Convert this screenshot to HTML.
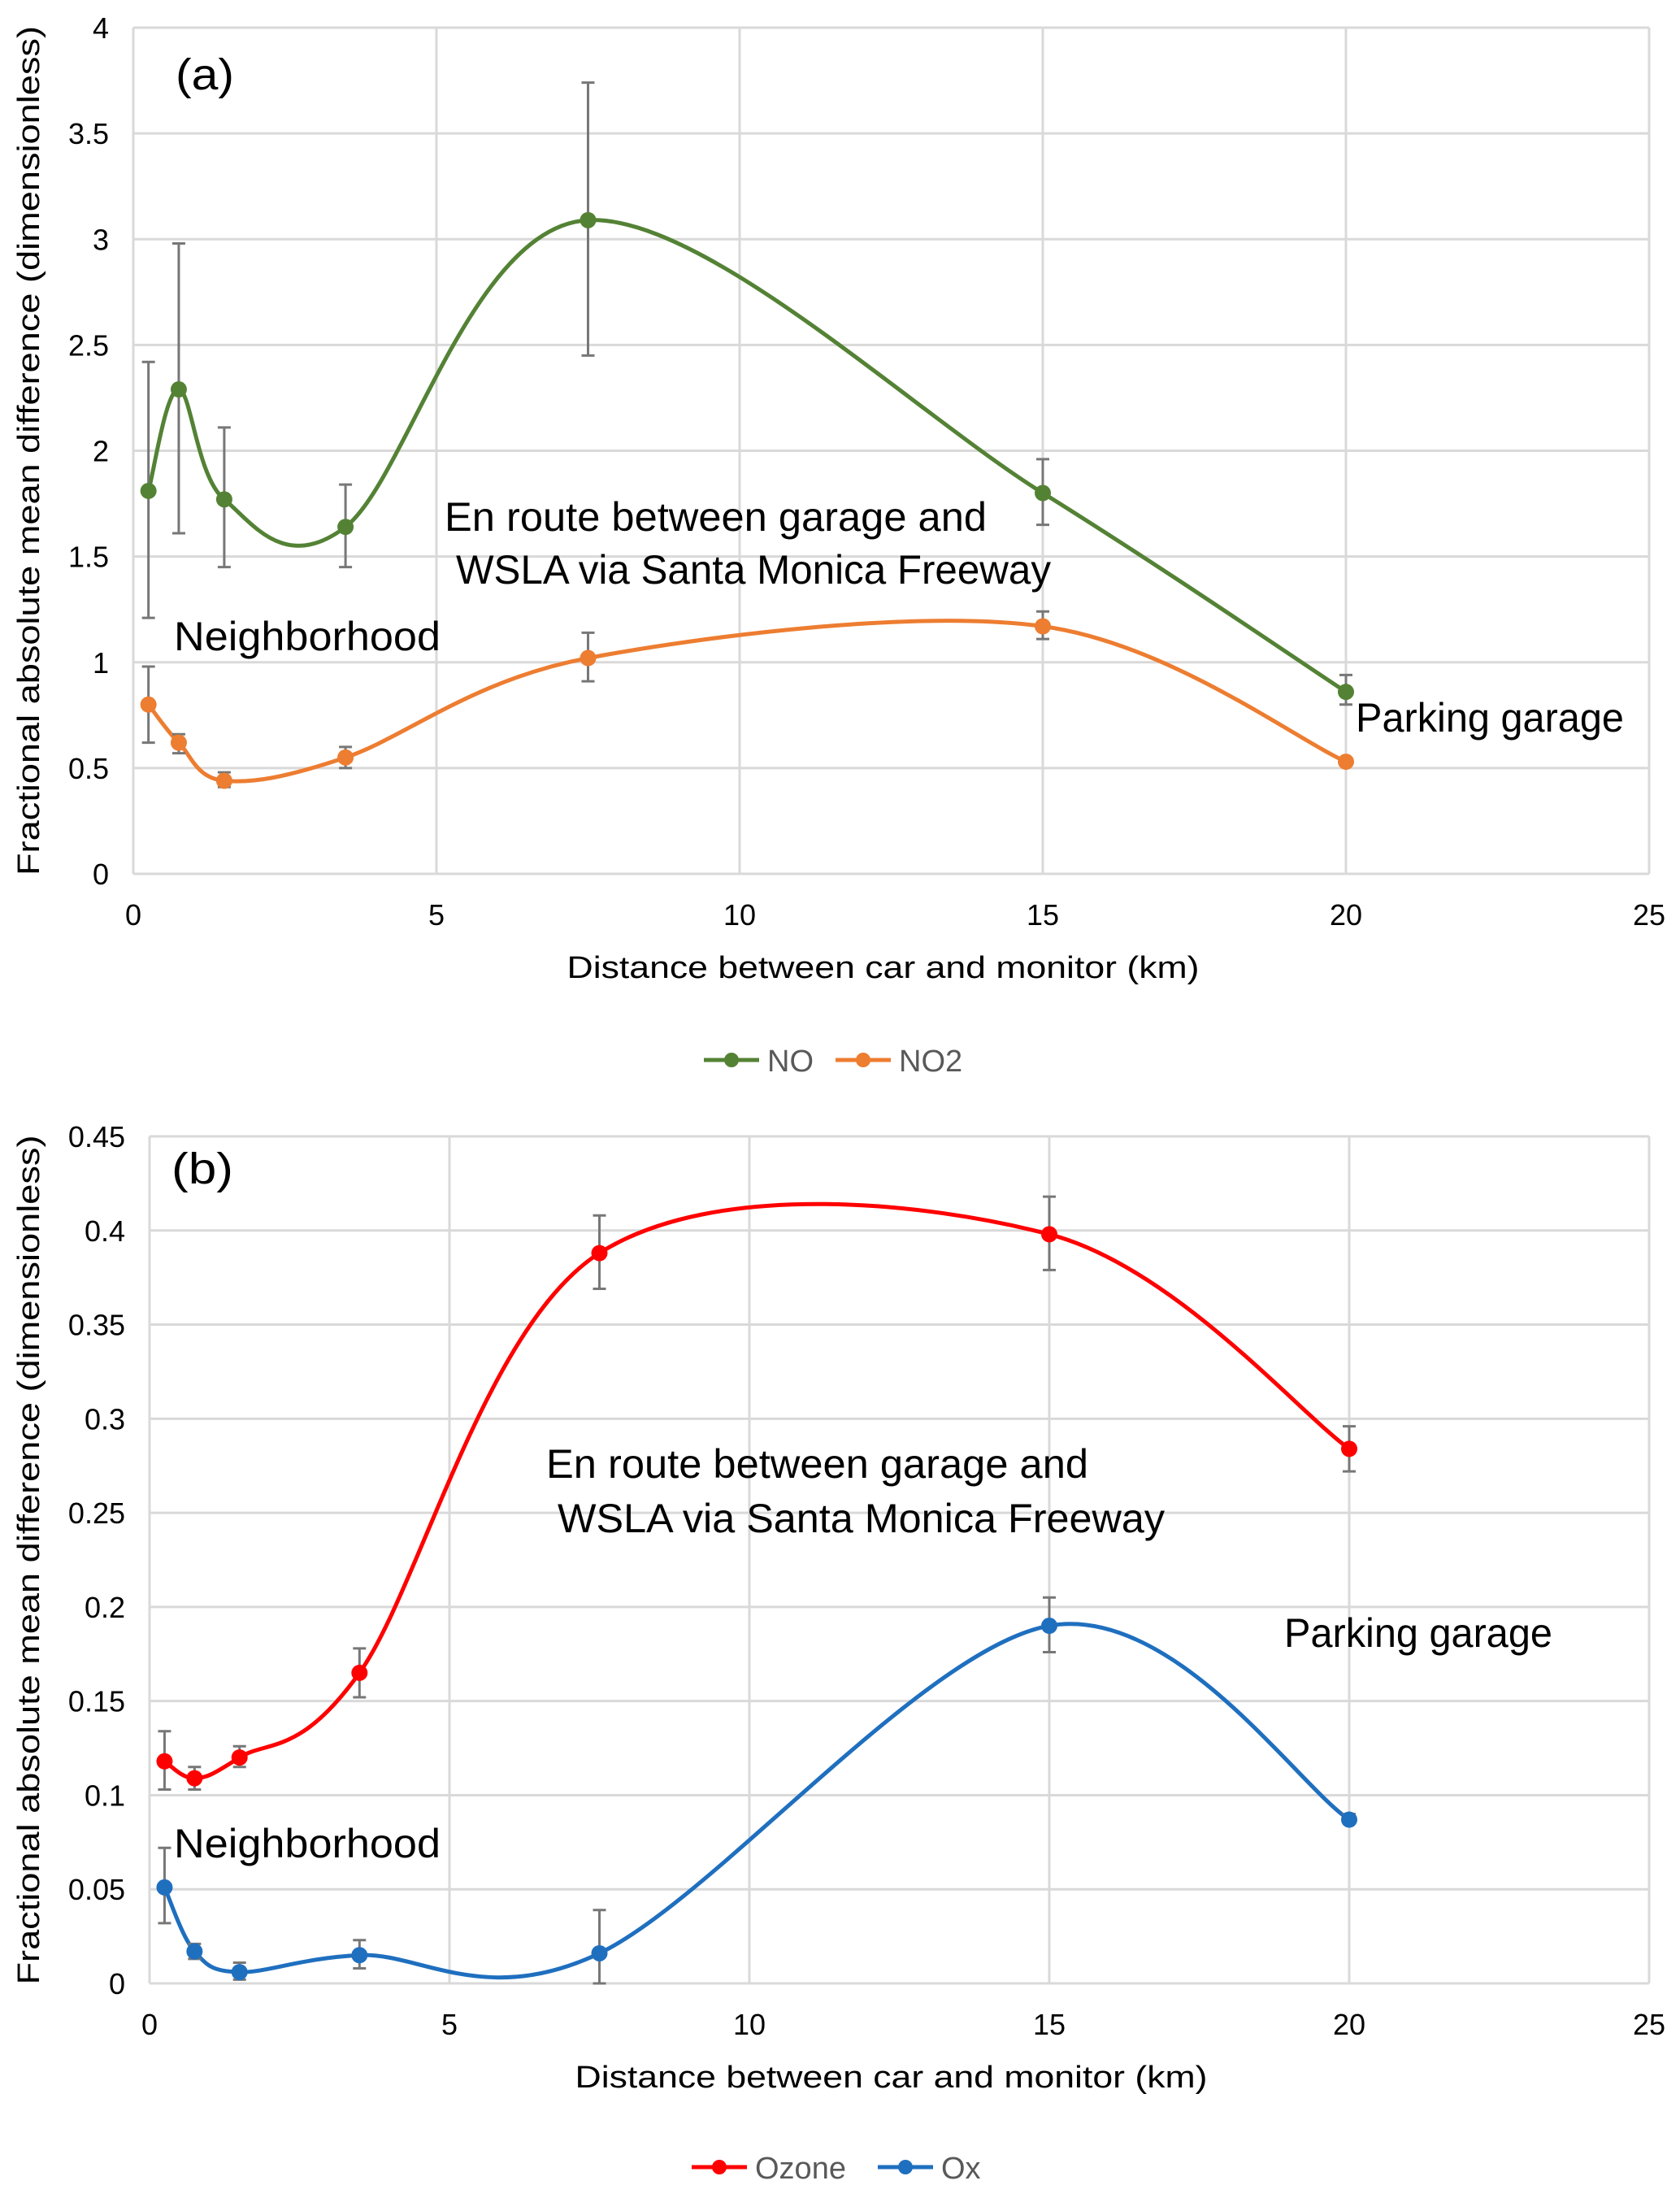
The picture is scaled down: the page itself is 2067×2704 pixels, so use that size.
<!DOCTYPE html>
<html><head><meta charset="utf-8"><style>
html,body{margin:0;padding:0;background:#fff}
svg{display:block}
text{font-family:"Liberation Sans",sans-serif}
</style></head>
<body>
<svg id="fig" xmlns="http://www.w3.org/2000/svg" width="2067" height="2704" viewBox="0 0 2067 2704"></svg>
<script>
const xs = [0.25, 0.75, 1.5, 3.5, 7.5, 15, 20];
const noVals = [1.81, 2.29, 1.77, 1.64, 3.09, 1.80, 0.86];
const noLo = [1.21, 1.61, 1.45, 1.45, 2.45, 1.65, 0.80];
const noHi = [2.42, 2.98, 2.11, 1.84, 3.74, 1.96, 0.94];
const no2Vals = [0.80, 0.62, 0.44, 0.55, 1.02, 1.17, 0.53];
const no2Lo = [0.62, 0.57, 0.41, 0.50, 0.91, 1.11, 0.53];
const no2Hi = [0.98, 0.66, 0.48, 0.60, 1.14, 1.24, 0.53];
const o3Vals = [0.118, 0.109, 0.120, 0.165, 0.388, 0.398, 0.284];
const o3Lo = [0.103, 0.103, 0.115, 0.152, 0.369, 0.379, 0.272];
const o3Hi = [0.134, 0.115, 0.126, 0.178, 0.408, 0.418, 0.296];
const oxVals = [0.051, 0.017, 0.006, 0.015, 0.016, 0.190, 0.087];
const oxLo = [0.032, 0.013, 0.002, 0.008, 0.000, 0.176, 0.085];
const oxHi = [0.072, 0.021, 0.011, 0.023, 0.039, 0.205, 0.090];
const xTicks = [0, 5, 10, 15, 20, 25];
const yTicksA = [0, 0.5, 1, 1.5, 2, 2.5, 3, 3.5, 4];
const yTickLabelsA = ["0","0.5","1","1.5","2","2.5","3","3.5","4"];
const yTicksB = [0, 0.05, 0.1, 0.15, 0.2, 0.25, 0.3, 0.35, 0.4, 0.45];
const yTickLabelsB = ["0","0.05","0.1","0.15","0.2","0.25","0.3","0.35","0.4","0.45"];

const NS = "http://www.w3.org/2000/svg";
const svg = document.getElementById('fig');
function mk(tag, attrs, parent, txt){
  const e = document.createElementNS(NS, tag);
  for (const k in attrs) e.setAttribute(k, attrs[k]);
  if (txt !== undefined) e.textContent = txt;
  (parent || svg).appendChild(e);
  return e;
}
function smoothPath(pts){
  let d = "M" + pts[0][0] + "," + pts[0][1];
  for (let i = 0; i < pts.length - 1; i++){
    const p0 = pts[i-1] || pts[i], p1 = pts[i], p2 = pts[i+1], p3 = pts[i+2] || pts[i+1];
    const c1x = p1[0] + (p2[0]-p0[0])/6, c1y = p1[1] + (p2[1]-p0[1])/6;
    const c2x = p2[0] - (p3[0]-p1[0])/6, c2y = p2[1] - (p3[1]-p1[1])/6;
    d += " C" + c1x + "," + c1y + " " + c2x + "," + c2y + " " + p2[0] + "," + p2[1];
  }
  return d;
}
function chart(cfg){
  const g = mk('g', {});
  
  
  const X = v => cfg.x0 + (v - 0) / 25 * (cfg.x1 - cfg.x0);
  const Y = v => cfg.y0 - v / cfg.ymax * (cfg.y0 - cfg.y1);
  cfg.yTicks.forEach((t, i) => {
    const l = mk('line', {x1: cfg.x0, x2: cfg.x1, y1: Y(t), y2: Y(t), stroke: '#d9d9d9', 'stroke-width': 3}, g);
    
    
    const tx = mk('text', {x: cfg.x0 - 30, y: Y(t) + 13, 'text-anchor': 'end', 'font-size': 36, fill: '#000'}, g, cfg.yLabels[i]);
    
    
  });
  xTicks.forEach(t => {
    const l = mk('line', {x1: X(t), x2: X(t), y1: cfg.y0, y2: cfg.y1, stroke: '#d9d9d9', 'stroke-width': 3}, g);
    
    
    const tx = mk('text', {x: X(t), y: cfg.y0 + 63, 'text-anchor': 'middle', 'font-size': 36, fill: '#000'}, g, String(t));
    
    
  });
  const xt = mk('text', {x: (cfg.x0 + cfg.x1) / 2 - 10, y: cfg.y0 + 128, 'text-anchor': 'middle', 'font-size': 38, fill: '#000', textLength: 778, lengthAdjust: 'spacingAndGlyphs'}, g, 'Distance between car and monitor (km)');
  
  
  const yc = (cfg.y0 + cfg.y1) / 2;
  const yt = mk('text', {x: 0, y: 0, transform: 'translate(48,' + yc + ') rotate(-90)', 'text-anchor': 'middle', 'font-size': 38, fill: '#000', textLength: 1045, lengthAdjust: 'spacingAndGlyphs'}, g, 'Fractional absolute mean difference (dimensionless)');
  
  
  cfg.series.forEach(s => {
    const sg = mk('g', {}, g);
    
    
    const pts = xs.map((x, i) => [X(x), Y(s.vals[i])]);
    const p = mk('path', {d: smoothPath(pts), fill: 'none', stroke: s.color, 'stroke-width': 5}, sg);
    
    
    xs.forEach((x, i) => {
      const e = mk('path', {d: 'M' + (X(x)-8) + ',' + Y(s.hi[i]) + 'h16M' + X(x) + ',' + Y(s.hi[i]) + 'V' + Y(s.lo[i]) + 'M' + (X(x)-8) + ',' + Y(s.lo[i]) + 'h16', stroke: '#777', 'stroke-width': 3, fill: 'none'}, sg);
      
      
    });
    xs.forEach((x, i) => {
      const c = mk('circle', {cx: X(x), cy: Y(s.vals[i]), r: 10, fill: s.color}, sg);
      
      
    });
  });
  let lx = cfg.legendX;
  cfg.series.forEach(s => {
    const lg = mk('g', {}, g);
    
    
    mk('line', {x1: lx, x2: lx + 68, y1: cfg.legendY, y2: cfg.legendY, stroke: s.color, 'stroke-width': 5}, lg);
    mk('circle', {cx: lx + 34, cy: cfg.legendY, r: 9, fill: s.color}, lg);
    mk('text', {x: lx + 78, y: cfg.legendY + 14, 'font-size': 38, fill: '#595959'}, lg, s.label);
    lx += s.legendW;
  });
  cfg.notes.forEach(n => {
    const t = mk('text', {x: n.x, y: n.y, 'font-size': n.fs, fill: '#000', 'text-anchor': n.anchor || 'start', textLength: n.w, lengthAdjust: 'spacingAndGlyphs'}, g, n.t);
    
    
  });
}
chart({name: 'chart-a', x0: 164, x1: 2029, y0: 1075, y1: 34, ymax: 4, yTicks: yTicksA, yLabels: yTickLabelsA,
  legendX: 866, legendY: 1304,
  series: [
    {key: 'no', label: 'NO', color: '#548235', vals: noVals, lo: noLo, hi: noHi, legendW: 162},
    {key: 'no2', label: 'NO2', color: '#ed7d31', vals: no2Vals, lo: no2Lo, hi: no2Hi, legendW: 200}
  ],
  notes: [
    {t: '(a)', x: 216, y: 110, fs: 54, w: 72, name: 'panel-label-a'},
    {t: 'En route between garage and', x: 547, y: 653, fs: 50, w: 667, name: 'annotation-en-route-line1'},
    {t: 'WSLA via Santa Monica Freeway', x: 561, y: 718, fs: 50, w: 732, name: 'annotation-en-route-line2'},
    {t: 'Neighborhood', x: 214, y: 800, fs: 50, w: 328, name: 'annotation-neighborhood'},
    {t: 'Parking garage', x: 1668, y: 900, fs: 50, w: 330, name: 'annotation-parking-garage'}
  ]});
chart({name: 'chart-b', x0: 184, x1: 2029, y0: 2440, y1: 1398, ymax: 0.45, yTicks: yTicksB, yLabels: yTickLabelsB,
  legendX: 851, legendY: 2666,
  series: [
    {key: 'ozone', label: 'Ozone', color: '#ff0000', vals: o3Vals, lo: o3Lo, hi: o3Hi, legendW: 229},
    {key: 'ox', label: 'Ox', color: '#1f6fbf', vals: oxVals, lo: oxLo, hi: oxHi, legendW: 150}
  ],
  notes: [
    {t: '(b)', x: 211, y: 1456, fs: 54, w: 76, name: 'panel-label-b'},
    {t: 'En route between garage and', x: 672, y: 1818, fs: 50, w: 667, name: 'annotation-en-route-line1'},
    {t: 'WSLA  via Santa Monica Freeway', x: 686, y: 1885, fs: 50, w: 747, name: 'annotation-en-route-line2'},
    {t: 'Neighborhood', x: 214, y: 2285, fs: 50, w: 328, name: 'annotation-neighborhood'},
    {t: 'Parking garage', x: 1580, y: 2026, fs: 50, w: 330, name: 'annotation-parking-garage'}
  ]});
</script>
</body></html>
